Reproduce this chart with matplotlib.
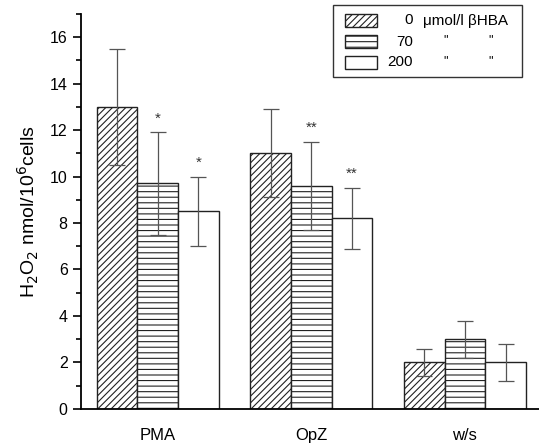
import matplotlib
matplotlib.use("Agg")
import matplotlib.pyplot as plt
import numpy as np
from matplotlib.patches import Rectangle
from matplotlib.ticker import MultipleLocator

plt.rcParams['font.family'] = ['Liberation Sans', 'DejaVu Sans']
plt.rcParams['hatch.linewidth'] = 0.8

categories = ["PMA", "OpZ", "w/s"]
conc_labels = ["0", "70", "200"]
means = {
    "0": [13.0, 11.0, 2.0],
    "70": [9.7, 9.6, 3.0],
    "200": [8.5, 8.2, 2.0],
}
errors = {
    "0": [2.5, 1.9, 0.6],
    "70": [2.2, 1.9, 0.8],
    "200": [1.5, 1.3, 0.8],
}
stars = {
    "0": ["", "", ""],
    "70": ["*", "**", ""],
    "200": ["*", "**", ""],
}
hatches = ["/////", "---", ""]

W, H = 539, 445
fig = plt.figure(figsize=(W / 100, H / 100), dpi=100)
ax = fig.add_axes([0.150, 0.081, 0.855, 0.888])

x = np.arange(len(categories))
w = 0.265
for i, c in enumerate(conc_labels):
    xs = x + (i - 1) * w
    ax.bar(xs, means[c], width=w, facecolor="white", edgecolor="#222222",
           hatch=hatches[i], linewidth=1.0, zorder=2)
    ax.errorbar(xs, means[c], yerr=errors[c], fmt="none", ecolor="#555555",
                elinewidth=0.9, capsize=5.5, capthick=0.9, zorder=3)
    for xx, m, e, s in zip(xs, means[c], errors[c], stars[c]):
        if s:
            ax.text(xx, m + e + 0.3, s, ha="center", va="bottom", fontsize=11, color="#333333")

ax.set_xlim(-0.5, 2.5)
ax.set_ylim(0, 17)
ax.set_xticks(x)
ax.set_xticklabels(categories, fontsize=12)
ax.tick_params(axis="x", length=0, pad=14)
ax.yaxis.set_major_locator(MultipleLocator(2))
ax.yaxis.set_minor_locator(MultipleLocator(1))
ax.tick_params(axis="y", which="major", direction="out", length=6, width=1.2, labelsize=11.5)
ax.tick_params(axis="y", which="minor", direction="out", length=3.5, width=1.2)
for s in ["top", "right"]:
    ax.spines[s].set_visible(False)
ax.spines["left"].set_linewidth(1.3)
ax.spines["bottom"].set_linewidth(1.3)
ax.set_ylabel(r"H$_2$O$_2$ nmol/10$^6$cells", fontsize=14, labelpad=6)

# manual legend (figure pixel coordinates)
def fx(px):
    return px / W

def fy(py):
    return 1 - py / H

frame = Rectangle((fx(333), fy(77)), fx(522) - fx(333), fy(5) - fy(77),
                  transform=fig.transFigure, facecolor="white", edgecolor="#333333",
                  linewidth=1.0, zorder=5)
fig.add_artist(frame)
row_top = [14, 35, 56]
sw_h = 13
for i, (t, h) in enumerate(zip(row_top, hatches)):
    r = Rectangle((fx(345), fy(t + sw_h)), fx(377) - fx(345), sw_h / H,
                  transform=fig.transFigure, facecolor="white", edgecolor="#222222",
                  hatch=h, linewidth=1.0, zorder=6)
    fig.add_artist(r)
    yc = fy(t + sw_h / 2)
    fig.text(fx(413), yc, conc_labels[i], ha="right", va="center", fontsize=11, zorder=7)
    if i == 0:
        fig.text(fx(423), yc, "μmol/l βHBA", ha="left", va="center", fontsize=11, zorder=7)
    else:
        fig.text(fx(446), yc + 0.004, '"', ha="center", va="center", fontsize=9, zorder=7)
        fig.text(fx(491), yc + 0.004, '"', ha="center", va="center", fontsize=9, zorder=7)

fig.savefig("out.png", dpi=100)
